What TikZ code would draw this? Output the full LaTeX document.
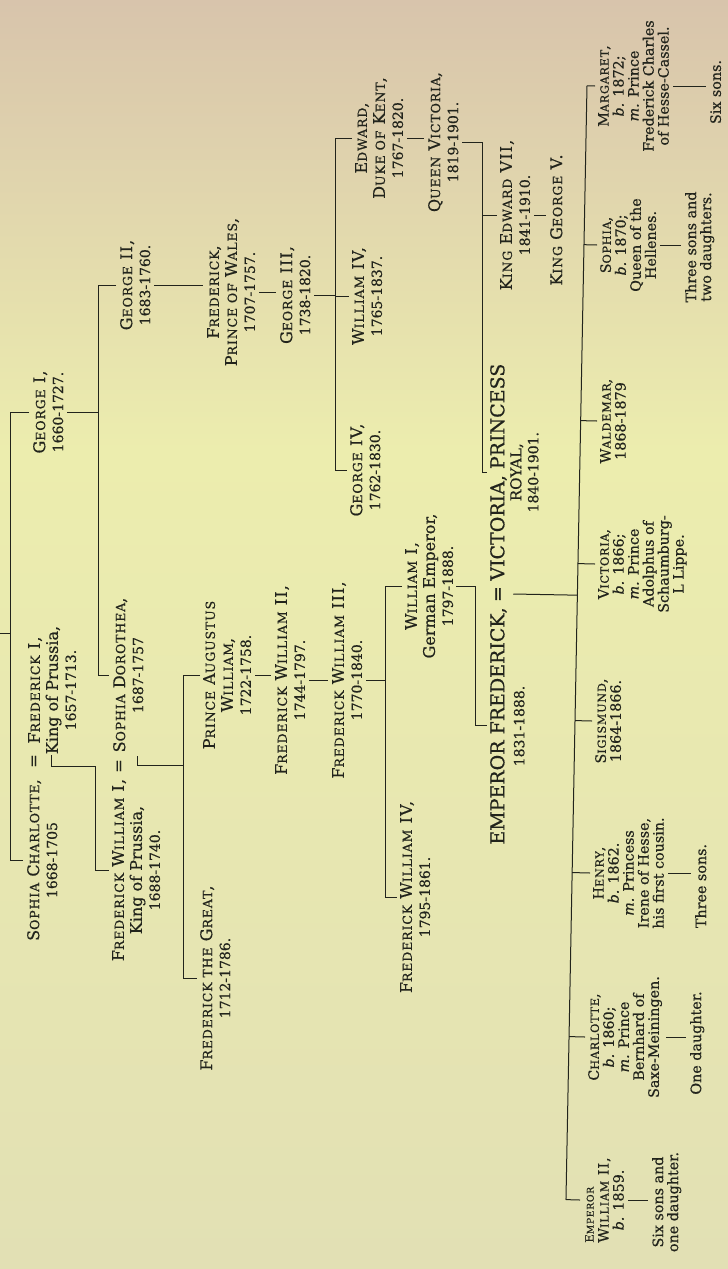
\documentclass[tikz,border=0pt]{standalone}
\usepackage{fontspec}
\setmainfont[FakeBold=0.6]{DejaVu Serif}
\newfontfamily\spaced[LetterSpace=7,FakeBold=0.6]{DejaVu Serif}
\usetikzlibrary{calc}
\definecolor{ink}{RGB}{34,36,28}
\definecolor{bgA}{RGB}{216,196,172}
\definecolor{bgB}{RGB}{236,237,174}
\definecolor{bgC}{RGB}{226,224,180}
\newcommand\NM[1]{{\spaced #1}}
\newcommand\smc[1]{{\fontsize{12.5}{12.5}\selectfont #1}}
\newcommand\gsc[1]{{\fontsize{11.2}{11.2}\selectfont #1}}
\newcommand\dt[1]{{\fontsize{14}{14}\selectfont #1}}
\newcommand\mainsz{\fontsize{16}{18}\selectfont}
\newcommand\gsz{\fontsize{14.3}{15}\selectfont}
\newcommand\bigsz{\fontsize{19}{17}\selectfont}
\begin{document}
\begin{tikzpicture}[x=1pt,y=-1pt,
  p/.style={rotate=90, anchor=north, inner sep=0pt, align=center, font=\mainsz, text=ink},
  g/.style={p, font=\gsz},
  ln/.style={draw=ink, line width=1pt},
  tk/.style={ln, shorten <=4pt, shorten >=4pt}]
\path[use as bounding box] (0,0) rectangle (728,1269);
\shade[top color=bgA, bottom color=bgB] (0,0) rectangle (728,450);
\shade[top color=bgB, bottom color=bgC] (0,450) rectangle (728,1269);

% generation 1
\node[p] (G1) at (33,412) {\NM{G\smc{EORGE} I,}\\\dt{1660-1727.}};
\node[p] (SC) at (27,860) {\NM{S\smc{OPHIA} C\smc{HARLOTTE},}\\\dt{1668-1705}};
\node[p] (eq1) at (27,761) {=\vphantom{E}};
\node[p] (F1) at (28,690) {\NM{F\smc{REDERICK} I,}\\King of Prussia,\\\dt{1657-1713.}};

% generation 2
\node[p] (G2) at (120,285) {\NM{G\smc{EORGE} II,}\\\dt{1683-1760.}};
\node[p] (FW1) at (112,870) {\NM{F\smc{REDERICK} W\smc{ILLIAM} I,}\\King of Prussia,\\\dt{1688-1740.}};
\node[p] (eq2) at (112,766) {=\vphantom{E}};
\node[p] (SD) at (113,675) {\NM{S\smc{OPHIA} D\smc{OROTHEA},}\\\dt{1687-1757}};

% British line
\node[p] (FPW) at (207,292) {\NM{F\smc{REDERICK},}\\\NM{P\smc{RINCE OF} W\smc{ALES},}\\\dt{1707-1757.}};
\node[p] (G3) at (280,295) {\NM{G\smc{EORGE} III,}\\\dt{1738-1820.}};
\node[p] (ED) at (355,138) {\NM{E\smc{DWARD},}\\\NM{D\smc{UKE OF} K\smc{ENT},}\\\dt{1767-1820.}};
\node[p] (W4) at (352,296) {\NM{W\smc{ILLIAM} IV,}\\\dt{1765-1837.}};
\node[p] (G4) at (350,470) {\NM{G\smc{EORGE} IV,}\\\dt{1762-1830.}};
\node[p] (QV) at (428,142) {\NM{Q\smc{UEEN} V\smc{ICTORIA},}\\\dt{1819-1901.}};
\node[p] (E7) at (500,215) {\NM{K\smc{ING} E\smc{DWARD} VII,}\\\dt{1841-1910.}};
\node[p] (G5) at (550,220) {\NM{K\smc{ING} G\smc{EORGE} V.}};

% Prussian line
\node[p] (PAW) at (203,675) {\NM{P\smc{RINCE} A\smc{UGUSTUS}}\\\NM{W\smc{ILLIAM},}\\\dt{1722-1758.}};
\node[p] (FG) at (200,978) {\NM{F\smc{REDERICK THE} G\smc{REAT},}\\\dt{1712-1786.}};
\node[p] (FW2) at (275,680) {\NM{F\smc{REDERICK} W\smc{ILLIAM} II,}\\\dt{1744-1797.}};
\node[p] (FW3) at (332,680) {\NM{F\smc{REDERICK} W\smc{ILLIAM} III,}\\\dt{1770-1840.}};
\node[p] (W1) at (405,586) {\NM{W\smc{ILLIAM} I,}\\German Emperor,\\\dt{1797-1888.}};
\node[p] (FW4) at (400,897) {\NM{F\smc{REDERICK} W\smc{ILLIAM} IV,}\\\dt{1795-1861.}};

% Emperor Frederick = Victoria
\node[p, font=\bigsz] (eq3) at (490,594) {=\vphantom{E}};
\node[p, font=\bigsz, anchor=north east] (EF) at ([yshift=-5pt]eq3.north west) {EMPEROR FREDERICK,\\[3pt]\dt{1831-1888.}};
\node[p, font=\bigsz, anchor=north west] (PR) at ([yshift=5pt]eq3.north east) {VICTORIA, PRINCESS\\{\fontsize{15}{15}\selectfont ROYAL,}\\\dt{1840-1901.}};

% grandchildren
\node[g] (M) at (598,86) {\NM{M\gsc{ARGARET},}\\\textit{b.} 1872;\\\textit{m.} Prince\\Frederick Charles\\of Hesse-Cassel.};
\node[g] (Mk) at (710,92) {Six sons.};
\node[g] (S) at (600,245) {\NM{S\gsc{OPHIA},}\\\textit{b.} 1870;\\Queen of the\\Hellenes.};
\node[g] (Sk) at (685,247) {Three sons and\\two daughters.};
\node[g] (Wd) at (600,421) {\NM{W\gsc{ALDEMAR},}\\1868-1879};
\node[g] (V) at (598,564) {\NM{V\gsc{ICTORIA},}\\\textit{b.} 1866;\\\textit{m.} Prince\\Adolphus of\\Schaumburg-\\L Lippe.};
\node[g] (Sg) at (595,721) {\NM{S\gsc{IGISMUND},}\\1864-1866.};
\node[g] (H) at (593,873) {\NM{H\gsc{ENRY},}\\\textit{b.} 1862.\\\textit{m.} Princess\\Irene of Hesse,\\his first cousin.};
\node[g] (Hk) at (695,886) {Three sons.};
\node[g] (C) at (588,1037) {\NM{C\gsc{HARLOTTE},}\\\textit{b.} 1860;\\\textit{m.} Prince\\Bernhard of\\Saxe-Meiningen.};
\node[g] (Ck) at (690,1043) {One daughter.};
\node[g] (W2) at (583,1200) {\rlap{\NM{{\fontsize{11.5}{11.5}\selectfont E{\fontsize{9.3}{9.3}\selectfont MPEROR}}}}\phantom{\NM{W\gsc{ILLIAM} II,}}\\\NM{W\gsc{ILLIAM} II,}\\\textit{b.} 1859.};
\node[g] (W2k) at (652,1202) {Six sons and\\one daughter.};

% ---- connectors ----
\coordinate (Lx) at (10,0);
\coordinate (Lstub) at (0,633);
\draw[ln] ([xshift=-4pt]G1.north) -- (G1.north -| Lx) -- (SC.north -| Lx) -- ([xshift=-4pt]SC.north);
\draw[ln] (Lstub) -- (Lstub -| Lx);

\coordinate (G1x) at (98,0);
\draw[ln] ([xshift=4pt]G1.south) -- (G1.south -| G1x);
\draw[ln] ([xshift=-4pt]G2.north) -- (G2.north -| G1x) -- (SD.north -| G1x) -- ([xshift=-4pt]SD.north);

\coordinate (m1s) at (51,755);
\coordinate (m1a) at (51,766);
\coordinate (m1x) at (95,766);
\draw[ln] (m1s) -- (m1a) -- (m1x) -- (FW1.north -| m1x) -- ([xshift=-3pt]FW1.north);

\coordinate (m2s) at (137,756);
\coordinate (m2a) at (137,765);
\coordinate (m2x) at (183,765);
\draw[ln] (m2s) -- (m2a) -- (m2x);
\draw[ln] ([xshift=-3pt]PAW.north) -- (PAW.north -| m2x) -- (FG.north -| m2x) -- ([xshift=-3pt]FG.north);

\draw[tk] (G2.south) -- (G2.south -| FPW.north);
\draw[tk] (FPW.south) -- (FPW.south -| G3.north);
\draw[tk] (PAW.south) -- (PAW.south -| FW2.north);
\draw[tk] (FW2.south) -- (FW2.south -| FW3.north);
\draw[tk] (ED.south) -- (ED.south -| QV.north);
\draw[tk] (E7.south) -- (E7.south -| G5.north);
\draw[tk] (M.south) -- (M.south -| Mk.north);
\draw[tk] (S.south) -- (S.south -| Sk.north);
\draw[tk] (H.south) -- (H.south -| Hk.north);
\draw[tk] (C.south) -- (C.south -| Ck.north);
\draw[tk] (W2.south) -- (W2.south -| W2k.north);

\coordinate (G3x) at (335,0);
\draw[ln] ([xshift=4pt]G3.south) -- (G3.south -| G3x);
\draw[ln] ([xshift=-3pt]ED.north) -- (ED.north -| G3x) -- (G4.north -| G3x) -- ([xshift=-3pt]G4.north);
\draw[ln] (W4.north -| G3x) -- ([xshift=-3pt]W4.north);

\coordinate (QVx) at (482,0);
\draw[ln] ([xshift=4pt]QV.south) -- (QV.south -| QVx) -- (PR.north -| QVx) -- ([xshift=-3pt]PR.north);
\draw[ln] (E7.north -| QVx) -- ([xshift=-3pt]E7.north);

\coordinate (F3x) at (385,0);
\draw[ln] ([xshift=4pt]FW3.south) -- (FW3.south -| F3x);
\draw[ln] ([xshift=-3pt]W1.north) -- (W1.north -| F3x) -- (FW4.north -| F3x) -- ([xshift=-3pt]FW4.north);

\coordinate (W1x) at (475,0);
\draw[ln] ([xshift=3pt]W1.south) -- (W1.south -| W1x) -- (EF.north -| W1x) -- ([xshift=-3pt]EF.north);

\coordinate (gcT) at (587,85);
\coordinate (gcB) at (566,1197);
\coordinate (m3a) at ([xshift=9pt]eq3.south);
\draw[ln] (m3a) -- ($(gcT)!(m3a)!(gcB)$);
\draw[ln] ($(gcT)!(M.north)!(gcB)$) -- ($(gcT)!(W2.north)!(gcB)$);
\foreach \k in {M,S,Wd,V,Sg,H,C,W2}
  \draw[ln] ($(gcT)!(\k.north)!(gcB)$) -- ([xshift=-3pt]\k.north);
\end{tikzpicture}
\end{document}
